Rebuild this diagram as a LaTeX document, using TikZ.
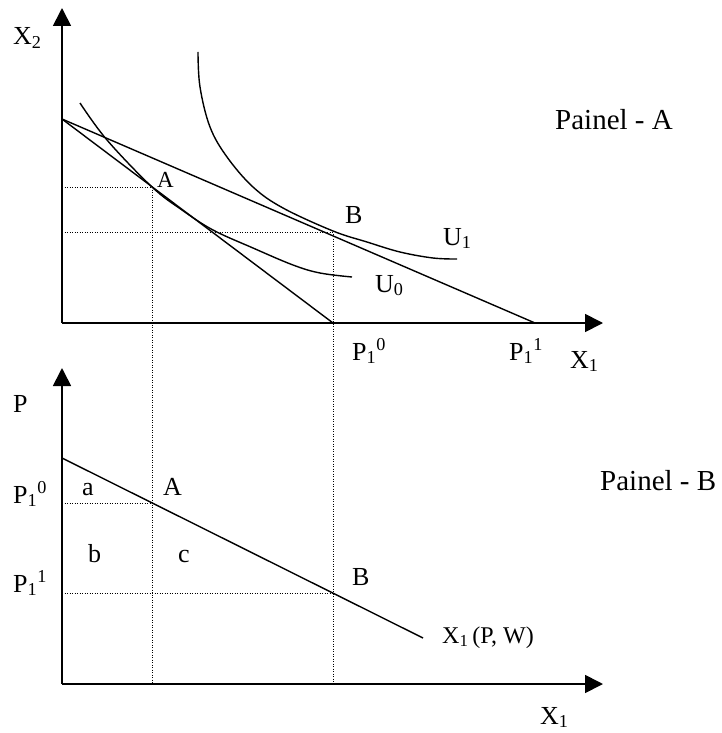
\documentclass[tikz,border=0pt]{standalone}
\usepackage{fontspec}
\setmainfont{Liberation Serif}
\usetikzlibrary{arrows.meta}
\tikzstyle{axis} = [line width=1.7pt, -{Triangle[length=18pt,width=18pt]}]
\tikzstyle{curve} = [line width=1.4pt]
\tikzstyle{guide} = [line width=0.9pt, dash pattern=on 0.9pt off 1.6pt]
\tikzstyle{lbl} = [inner sep=0pt, anchor=base west, font=\fontsize{26}{30}\selectfont]
\tikzstyle{panel} = [inner sep=0pt, anchor=base west, font=\fontsize{29}{34}\selectfont]

\begin{document}
\begin{tikzpicture}[x=1pt,y=-1pt]
\useasboundingbox (0,0) rectangle (722,733);
% Painel A
\coordinate (O1) at (62,323);
\coordinate (Y1) at (62,8);
\coordinate (X1) at (603,323);
\coordinate (I) at (62,119);
\coordinate (P10) at (333,323);
\coordinate (P11) at (535,323);
\coordinate (A1) at (152,187);
\coordinate (B1) at (333,232);
\coordinate (A1y) at (62,187);
\coordinate (B1y) at (62,232);
% Painel B
\coordinate (O2) at (62,684);
\coordinate (Y2) at (62,368);
\coordinate (X2) at (603,684);
\coordinate (D0) at (62,458);
\coordinate (D1) at (423,638);
\coordinate (A2) at (152,503);
\coordinate (B2) at (333,593);
\coordinate (A2y) at (62,503);
\coordinate (B2y) at (62,593);
\coordinate (A2x) at (152,684);
\coordinate (B2x) at (333,684);

\draw[axis] (O1) -- (Y1);
\draw[axis] (O1) -- (X1);
\draw[axis] (O2) -- (Y2);
\draw[axis] (O2) -- (X2);

\draw[curve] (I) -- (P10);
\draw[curve] (I) -- (P11);
\draw[curve] (D0) -- (D1);

\draw[guide] (A1y) -- (A1) -- (A2x);
\draw[guide] (B1y) -- (B1) -- (B2x);
\draw[guide] (A2y) -- (A2);
\draw[guide] (B2y) -- (B2);

% U0 e U1
\draw[curve] plot[smooth, tension=0.6] coordinates {(80,103) (107,140) (152,187) (182,210) (213,230) (253,248) (293,265) (320,273) (352,277)};
\draw[curve] plot[smooth, tension=0.6] coordinates {(198,52) (200,87) (210,127) (227,157) (253,187) (283,208) (333,231) (367,242) (400,252) (433,258) (457,259)};

\node[lbl] (xtwo) at (13,45) {X\textsubscript{2}};
\node[lbl, font=\fontsize{23}{27}\selectfont] (ptA) at (157,187) {A};
\node[lbl] (ptB) at (345,223) {B};
\node[lbl] (uone) at (443,245) {U\textsubscript{1}};
\node[lbl] (uzero) at (375,292) {U\textsubscript{0}};
\node[lbl] (pzero) at (352,360) {P\textsubscript{1}\textsuperscript{0}};
\node[lbl] (pone) at (509,360) {P\textsubscript{1}\textsuperscript{1}};
\node[lbl] (xone) at (570,368) {X\textsubscript{1}};
\node[panel] (painelA) at (555,130) {Painel - A};

\node[lbl] (preco) at (13,412) {P};
\node[lbl] (pzeroB) at (13,503) {P\textsubscript{1}\textsuperscript{0}};
\node[lbl] (poneB) at (13,592) {P\textsubscript{1}\textsuperscript{1}};
\node[lbl] (areaA) at (82,495) {a};
\node[lbl] (areaB) at (88,562) {b};
\node[lbl] (areaC) at (178,562) {c};
\node[lbl] (ptA2) at (163,495) {A};
\node[lbl] (ptB2) at (352,585) {B};
\node[lbl, font=\fontsize{24}{28}\selectfont] (demanda) at (442,643) {X\textsubscript{1}\,(P, W)};
\node[lbl] (xoneB) at (540,724) {X\textsubscript{1}};
\node[panel] (painelB) at (600,490) {Painel - B};
\end{tikzpicture}
\end{document}
